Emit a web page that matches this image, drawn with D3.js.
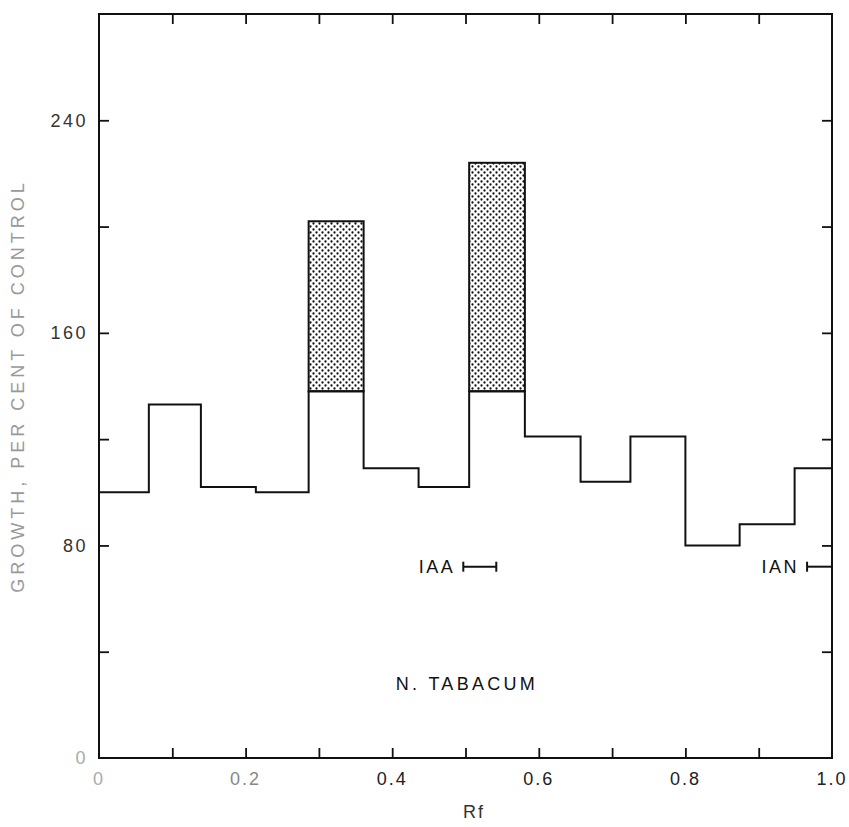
<!DOCTYPE html>
<html>
<head>
<meta charset="utf-8">
<script src="https://cdn.jsdelivr.net/npm/d3@7/dist/d3.min.js"></script>
<style>
  html, body { margin: 0; padding: 0; background: #fff; }
  svg text { font-family: "Liberation Sans", Arial, sans-serif; }
</style>
</head>
<body>
<div id="chart"></div>
<script>
// ---- data ----
const binEdges = [0, 0.068, 0.139, 0.214, 0.286, 0.361, 0.436, 0.505, 0.581, 0.657, 0.725, 0.800, 0.874, 0.949, 1.0];
const growth = [100, 133, 102, 100, 138, 109, 102, 138, 121, 104, 121, 80, 88, 109];
const stippledBins = [4, 7];
const stippledTop = [202, 224];
const yTicks = [0, 40, 80, 120, 160, 200, 240, 280];
const yTickLabels = ["0", "", "80", "", "160", "", "240", ""];
const xTicks = [0.1, 0.2, 0.3, 0.4, 0.5, 0.6, 0.7, 0.8, 0.9];
const xTickLabelValues = [0, 0.2, 0.4, 0.6, 0.8, 1.0];
const xTickLabels = ["0", "0.2", "0.4", "0.6", "0.8", "1.0"];
const markers = [
  { name: "IAA", from: 0.497, to: 0.542, level: 72 },
  { name: "IAN", from: 0.966, to: 1.0, level: 72 }
];

(function () {
const W = 849, H = 827;
const pL = 99, pR = 832, pT = 14, pB = 758;

const svg = d3.select("#chart").append("svg").attr("width", W).attr("height", H);

const x = d3.scaleLinear().domain([0, 1]).range([pL, pR]);
const y = d3.scaleLinear().domain([0, 280]).range([pB, pT]);

const defs = svg.append("defs");
const pat = defs.append("pattern").attr("id", "stipple").attr("patternUnits", "userSpaceOnUse")
  .attr("width", 6).attr("height", 6);
pat.append("rect").attr("width", 6).attr("height", 6).attr("fill", "#fff");
pat.append("circle").attr("cx", 1.5).attr("cy", 1.5).attr("r", 1.15).attr("fill", "#111");
pat.append("circle").attr("cx", 4.5).attr("cy", 4.5).attr("r", 1.15).attr("fill", "#111");

// stippled bars
stippledBins.forEach((b, i) => {
  svg.append("rect")
    .attr("x", x(binEdges[b]))
    .attr("y", y(stippledTop[i]))
    .attr("width", x(binEdges[b + 1]) - x(binEdges[b]))
    .attr("height", y(growth[b]) - y(stippledTop[i]))
    .attr("fill", "url(#stipple)")
    .attr("stroke", "#111").attr("stroke-width", 2);
});

// step line
const pts = [];
growth.forEach((v, i) => { pts.push([binEdges[i], v]); pts.push([binEdges[i + 1], v]); });
svg.append("path")
  .attr("d", d3.line().x(d => x(d[0])).y(d => y(d[1]))(pts))
  .attr("fill", "none").attr("stroke", "#111").attr("stroke-width", 2);

// frame
svg.append("rect").attr("x", pL).attr("y", pT).attr("width", pR - pL).attr("height", pB - pT)
  .attr("fill", "none").attr("stroke", "#111").attr("stroke-width", 2);

// axes with inward ticks
const tickLen = 10;
const yLeft = svg.append("g").attr("transform", `translate(${pL},0)`)
  .call(d3.axisRight(y).tickValues(yTicks.slice(1, -1)).tickSize(tickLen).tickFormat(""));
const yRight = svg.append("g").attr("transform", `translate(${pR},0)`)
  .call(d3.axisLeft(y).tickValues(yTicks.slice(1, -1)).tickSize(tickLen).tickFormat(""));
const xBottom = svg.append("g").attr("transform", `translate(0,${pB})`)
  .call(d3.axisTop(x).tickValues(xTicks).tickSize(tickLen).tickFormat(""));
const xTop = svg.append("g").attr("transform", `translate(0,${pT})`)
  .call(d3.axisBottom(x).tickValues(xTicks).tickSize(tickLen).tickFormat(""));
[yLeft, yRight, xBottom, xTop].forEach(g => {
  g.select(".domain").remove();
  g.selectAll(".tick line").attr("stroke", "#111").attr("stroke-width", 1.8);
});

// y tick labels
yTicks.forEach((v, i) => {
  if (!yTickLabels[i]) return;
  svg.append("text").attr("x", 88).attr("y", y(v)).attr("dy", "0.35em")
    .attr("text-anchor", "end").attr("font-size", 18).attr("letter-spacing", 2.5)
    .attr("fill", v === 0 ? "#aaa" : "#333").text(yTickLabels[i]);
});

// x tick labels
xTickLabelValues.forEach((v, i) => {
  svg.append("text").attr("x", x(v)).attr("y", 785)
    .attr("text-anchor", "middle").attr("font-size", 18).attr("letter-spacing", 2)
    .attr("fill", v === 0 ? "#aaa" : (v === 0.2 ? "#888" : "#222")).text(xTickLabels[i]);
});

// axis titles
svg.append("text").attr("x", 474).attr("y", 818).attr("text-anchor", "middle")
  .attr("font-size", 18).attr("letter-spacing", 2).attr("fill", "#333").text("Rf");
svg.append("text").attr("transform", `translate(24,${(pT + pB) / 2}) rotate(-90)`)
  .attr("text-anchor", "middle").attr("font-size", 18).attr("letter-spacing", 4)
  .attr("fill", "#999").text("GROWTH, PER CENT OF CONTROL");

// markers
markers.forEach(m => {
  const g = svg.append("g");
  const yy = y(m.level);
  g.append("line").attr("x1", x(m.from)).attr("x2", x(m.to)).attr("y1", yy).attr("y2", yy)
    .attr("stroke", "#111").attr("stroke-width", 2);
  g.append("line").attr("x1", x(m.from)).attr("x2", x(m.from)).attr("y1", yy - 5).attr("y2", yy + 5)
    .attr("stroke", "#111").attr("stroke-width", 2);
  if (m.to < 1) {
    g.append("line").attr("x1", x(m.to)).attr("x2", x(m.to)).attr("y1", yy - 5).attr("y2", yy + 5)
      .attr("stroke", "#111").attr("stroke-width", 2);
  }
  g.append("text").attr("x", x(m.from) - 8).attr("y", yy).attr("dy", "0.36em")
    .attr("text-anchor", "end").attr("font-size", 18).attr("letter-spacing", 2.5)
    .attr("fill", "#111").text(m.name);
});

// species label
svg.append("text").attr("x", 467).attr("y", 684).attr("dy", "0.36em").attr("text-anchor", "middle")
  .attr("font-size", 18).attr("letter-spacing", 3.3).attr("fill", "#111").text("N. TABACUM");
})();
</script>
</body>
</html>
